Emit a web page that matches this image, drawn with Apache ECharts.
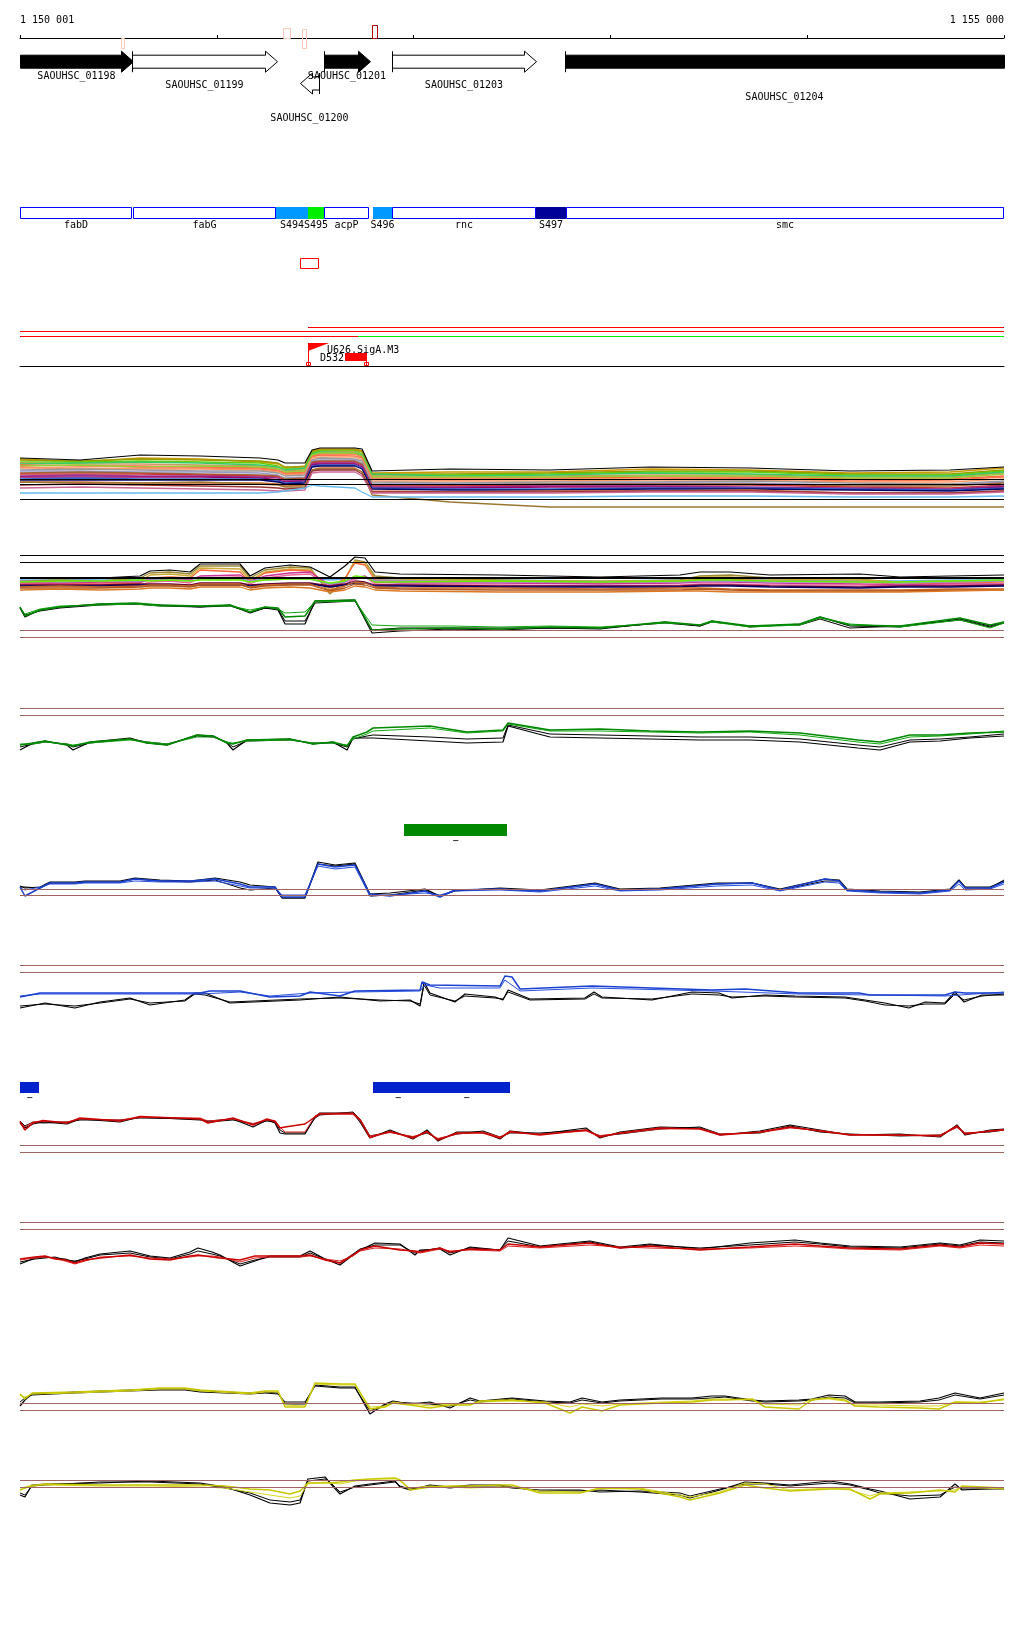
<!DOCTYPE html>
<html>
<head>
<meta charset="utf-8">
<title>SAOUHSC_01198 – SAOUHSC_01204 region</title>
<script src="https://cdn.jsdelivr.net/npm/echarts@6.0.0/dist/echarts.min.js"></script>
<style>
html,body{margin:0;padding:0;background:#ffffff;}
#chart{width:1024px;height:1640px;}
</style>
</head>
<body>
<div id="chart"></div>
<script>
// ======================= DATA =======================
const WIN_START = 1150000;      // window shown as 1 150 001 .. 1 155 000
const WIN_LEN = 5000;           // bp in window
const RULER_STEP = 1000;

// genes (bp relative to window start)
const GENE_NAMES  = ['SAOUHSC_01198','SAOUHSC_01199','SAOUHSC_01200','SAOUHSC_01201','SAOUHSC_01203','SAOUHSC_01204'];
const GENE_START  = [-300, 569, 1423, 1545, 1890, 2769];
const GENE_END    = [574, 1306, 1520, 1778, 2622, 5600];
const GENE_STRAND = [1, 1, -1, 1, 1, 1];
const GENE_FILLED = [1, 0, 0, 1, 0, 1];

// small marks on the ruler
const MARK_START = [513, 1336, 1433, 1789];
const MARK_END   = [528, 1372, 1453, 1814];

// operon / annotation boxes
const OPERON_NAMES = ['fabD','fabG','S494','S495','acpP','S496','rnc','S497','smc'];
const OPERON_START = [0, 574, 1301, 1463, 1545, 1794, 1890, 2622, 2774];
const OPERON_END   = [567, 1301, 1463, 1545, 1773, 1890, 2622, 2774, 5000];
const OPERON_TYPE  = ['cds','cds','srna','srna','cds','srna','cds','srna','cds'];

// site, transcripts, promoter, terminator
const SITE_START = [1423];
const SITE_END   = [1519];
const TX_START = [1463, 0, 0, 1717];
const TX_END   = [5000, 5000, 1717, 5000];
const TX_LANE  = [0, 1, 2, 2];
const PROM_NAMES = ['U626.SigA.M3'];
const PROM_POS   = [1463];
const TERM_NAMES = ['D532'];
const TERM_START = [1651];
const TERM_END   = [1758];

// segment features
const GSEG_START = [1951];
const GSEG_END   = [2475];
const GSEG_LABEL = ['−'];
const BSEG_START = [0, 1794, 2048];
const BSEG_END   = [97, 2048, 2490];
const BSEG_LABEL = ['−', '−', '−'];

// ---- track A (dense multi-condition profile) ----
const A_POS    = [0,305,610,915,1220,1311,1347,1448,1484,1524,1702,1738,1789,2185,2693,3201,3709,4217,4726,5000];
const A_BLACK  = [10.4,10,11,10.8,10.4,10,9.4,9.4,12,12.4,12.4,12.2,7.8,8.2,8,8.6,8.4,7.8,8,8.6];
const A_GOLD   = [10.2,9.6,10.4,10.2,9.6,9.2,8.4,8.8,11.8,12.2,12.2,11.8,7.4,7.6,7.6,8.2,8,7.4,7.6,8.4];
const A_OLIVE  = [10,9.8,10.2,10,9.8,9.4,8.6,8.6,11.6,12,12,11.6,7.2,7.2,7.4,7.8,7.8,7.2,7.2,8];
const A_GREEN  = [9.6,9.6,9.8,9.6,9.4,8.8,8.2,8.2,11.4,11.8,11.8,11.2,7,7,7.2,7.6,7.6,7,7,7.8];
const A_TAN    = [9.4,9.2,9.2,9,8.8,8.4,7.8,8,11,11.6,11.6,11,6.8,6.8,6.8,7,7,6.6,6.6,7.4];
const A_MINT   = [9.2,9.4,9.6,9.4,9,8.6,8,8.4,11.2,11.6,11.4,11,7.2,6.8,7,7.4,7.2,6.8,6.8,7.6];
const A_ORANGE = [9,8.8,8.8,8.6,8.4,8,7.4,7.6,10.8,11.2,11.2,10.6,6.4,6.4,6.4,6.6,6.6,6.2,6.2,6.8];
const A_LIME   = [8.8,9,8.6,8.8,8.6,8.2,7.6,7.8,11,11.4,11.4,10.8,6.6,6.6,6.6,6.8,6.8,6.4,6.4,7.2];
const A_CORAL  = [8.6,8.2,8.4,8.4,8.2,7.8,7.2,7.4,10.6,11,10.8,10.4,6.2,6,6.2,6.2,6.4,5.8,6,6.6];
const A_SALMON = [8.4,8.4,8.2,8.2,8,7.6,7,7.2,10.4,10.6,10.6,10,5.8,5.8,5.8,6,6,5.6,5.6,6.2];
const A_GREY   = [8,8.2,8,7.8,7.8,7.4,6.8,7,10,10.4,10.2,9.8,5.6,5.4,5.6,5.6,5.8,5.4,5.2,5.8];
const A_LILAC  = [7.8,7.8,7.6,7.6,7.4,7,6.4,6.6,9.8,10,10,9.4,5.2,5.2,5.2,5.4,5.4,5,5,5.6];
const A_BROWN  = [7.4,7.6,7.4,7.2,7,6.8,6.2,6.4,9.6,9.8,9.8,9.2,5,5,5.2,5.2,5.2,4.8,4.8,5.4];
const A_RED    = [7.2,7.2,7.2,7,6.8,6.6,6,6.2,9.4,9.6,9.6,9,4.8,4.8,5,5,5,4.6,4.4,5];
const A_PLUM   = [6.8,7,6.8,6.8,6.6,6.4,5.8,6,9.2,9.4,9.4,8.8,4.6,4.6,4.8,4.8,4.6,4.4,4.2,4.8];
const A_PURPLE = [6.6,6.6,6.6,6.6,6.4,6,5.6,5.8,9,9.2,9.2,8.6,4.4,4.4,4.6,4.6,4.4,4.2,4,4.6];
const A_BLUE   = [6.2,6.4,6.2,6.2,6.2,5.8,5.4,5.6,8.8,9,9,8.4,4.4,4.2,4.2,4.4,4.4,4.2,4,4.4];
const A_NAVY   = [6,6,6,6,6,5.6,5.2,5.4,8.6,8.8,8.8,8.2,4.2,4,4,4.2,4.2,4,3.8,4.2];
const A_RUST   = [5.6,5.6,5.4,5.4,5.4,5.2,4.8,5,8,8.4,8.4,7.6,3.8,3.6,3.8,3.8,4,3.4,3.4,3.8];
const A_OCHRE  = [5.6,5.4,5.4,5.6,5.2,5,4.6,4.6,8,8.2,8.2,7.6,3,1.6,0.6,0.6,0.6,0.6,0.6,0.6];
const A_MAROON = [5,5.2,5,4.8,4.6,4.4,4.2,4.4,7.8,8,8,7.2,3.6,3.6,3.6,3.8,3.8,3.4,3.4,3.8];
const A_PINK   = [4.4,4.6,4.4,4.2,4,3.8,3.8,4,7.4,7.6,7.6,6.8,3.4,3.4,3.4,3.6,3.6,3.2,3.2,3.6];
const A_SKY    = [3.4,3.4,3.4,3.4,3.4,3.6,3.8,4.4,5,4.8,4.4,3.6,2.6,2.6,2.6,2.8,2.8,2.6,2.6,2.8];
const A_REFS   = [6.2, 5.2, 2.2];

// ---- track B ----
const B_POS     = [0,203,407,610,661,762,864,915,1118,1169,1245,1372,1474,1575,1651,1702,1753,1804,1931,2439,2947,3354,3455,3608,3811,4268,4472,4726,5000];
const B_BLACK   = [4.4,4.4,4.4,4.8,5.8,6,5.6,7.2,7.2,4.8,6.4,7,6.6,4.6,6.8,8.6,8.4,5.6,5.2,5,4.6,5,5.6,5.6,5,5.2,4.6,4.8,5];
const B_OLIVE   = [3.8,4,3.8,4.4,5.4,5.6,5.2,6.8,6.8,4.4,6,6.6,6.4,1.2,4,8,7.6,4.8,4.4,4,3.6,4,4.8,5,4.4,4.2,3.4,3.6,3.8];
const B_GOLD    = [3.6,3.6,3.4,3.8,5,5.2,4.8,6.4,6.2,4,5.6,6.2,6,2,4.2,7.8,7.4,4.4,4.2,3.8,3.8,3.8,4.6,4.6,4.2,4,3.6,3.8,3.8];
const B_ORANGE  = [3.2,3.4,3.2,3.4,4.4,4.6,4.4,6,5.6,3.6,5.4,6,5.8,2.4,4.4,7.4,7,4,3.8,3.6,3.4,3.6,4.2,4.2,3.8,3.6,3.2,3.4,3.6];
const B_MAGENTA = [3.4,3.4,3.6,3.6,4,4,4,4.8,5,3.8,4.8,5.4,5.6,3,3.6,4.4,4.8,3.6,3.4,3.4,3.2,3.4,3.6,3.6,3.4,3.2,3,3.2,3.2];
const B_PINK    = [3.2,3,3.2,3,3.6,3.8,3.4,4.4,4.6,3.2,4.4,5,5.2,2.6,3.2,4.2,4.6,3.2,3,3,2.8,3,3.2,3.2,3,3,2.8,3,3];
const B_SKY     = [4,4,4.2,4.2,4.2,4.2,4.2,4.4,4.4,4.2,4.2,4.4,4.4,4,4.2,4.4,4.4,4,4,4,3.8,4,4,4,4,3.8,3.8,4,4];
const B_LILAC   = [3.8,3.6,3.8,3.8,4,4,3.8,4.2,4.2,3.8,4,4.2,4.2,3.2,3.6,4.6,4.4,3.8,3.8,3.6,3.6,3.6,3.8,3.8,3.6,3.6,3.4,3.6,3.8];
const B_GREEN   = [3.6,3.8,3.8,4,3.8,4,3.8,4,4,3.6,4,4.2,4.2,3.4,3.8,4.8,4.6,3.6,3.6,3.8,3.6,3.8,4,4,3.8,3.6,3.6,3.8,4];
const B_DARK    = [3,3,3,3.2,3.2,3.2,3,3.4,3.4,3,3.2,3.4,3.4,2.8,3.2,3.8,3.6,3,3,2.8,2.8,2.8,3,3,2.8,2.6,2.8,2.8,3];
const B_NAVY    = [2.8,2.8,2.8,3,3,3,2.8,3,3,2.8,3,3.2,3.2,2.6,3,3.4,3.4,2.8,2.8,2.6,2.6,2.6,2.8,2.8,2.6,2.4,2.6,2.6,2.8];
const B_RUST    = [2.6,2.8,2.6,2.8,3,3,2.8,3.2,3.2,2.6,3,3.2,3.2,2,2.8,3.6,3.4,2.6,2.4,2.4,2.2,2.4,2.4,2.2,2,2,2,2.2,2.2];
const B_BROWN   = [2.4,2.4,2.4,2.6,2.8,2.8,2.6,3,3,2.4,2.8,3,3,1.8,2.4,3.2,3,2.4,2.2,2,2,2,2.2,2,1.8,1.8,1.8,2,2];
const B_AMBER   = [2,2.2,2,2.2,2.4,2.4,2.2,2.6,2.6,2,2.4,2.6,2.4,1.6,2,2.8,2.6,2,1.8,1.6,1.6,1.8,1.8,1.6,1.6,1.6,1.6,1.8,2];
const B_REFS    = [9, 7.6];
const B_BASE    = [4.4];

// ---- track C (green) ----
const C_POS    = [0,25,102,203,407,584,711,915,1067,1169,1245,1311,1347,1448,1499,1702,1789,1931,2185,2439,2693,2947,3277,3455,3516,3709,3963,4065,4217,4472,4776,4929,5000];
const C_GREEN1 = [7.6,5.8,7,7.6,8.2,8.4,8,7.8,8,6.6,7.6,7.4,5.6,5.8,8.8,9,3,3.2,3.4,3.2,3.6,3.4,4.6,4,4.8,3.8,4.2,5.6,4,3.8,5.4,4,4.6];
const C_GREEN2 = [7.4,6.2,7.2,7.8,8,8.2,7.8,7.8,7.8,7,7.6,7.2,6.4,6.6,8.6,8.8,4,3.8,3.8,3.6,3.8,3.6,4.4,4,4.6,3.6,4,5.4,4.2,3.6,5,3.4,4.4];
const C_BLACK1 = [7.4,5.6,7,7.6,8.2,8.2,8,7.6,8,6.4,7.4,7,4.2,4.2,8.8,9,2.4,2.8,3.2,3,3.4,3.2,4.6,3.8,4.8,3.6,4.2,5.6,3.8,3.6,5.2,3.8,4.6];
const C_BLACK2 = [7.6,6,6.8,7.4,8,8.2,7.8,7.6,7.8,6.6,7.4,7.2,4.8,4.8,8.4,8.8,3,3.4,3.4,3.4,3.4,3.4,4.4,3.8,4.6,3.8,4,5.2,3.4,3.8,5,3.6,4.4];
const C_REFS   = [3, 1.6];

// ---- track D (green) ----
const D_POS    = [0,66,127,239,269,356,559,645,747,899,981,1052,1082,1153,1372,1489,1590,1662,1692,1763,1794,2083,2271,2454,2480,2693,2947,3201,3455,3709,3963,4258,4370,4522,4675,4827,5000];
const D_GREEN1 = [3,3.4,3.8,3,2.8,3.6,4.2,3.4,3,5,4.8,3.4,3.2,4,4.2,3.2,3.6,2.8,4.6,5.6,6.4,6.8,5.6,6,7.4,6,6.2,5.8,5.6,5.8,5.4,4,3.6,5,5,5.4,5.6];
const D_GREEN2 = [3.2,3.2,3.6,3.2,3,3.4,4,3.6,3.2,4.6,4.6,3.6,3.4,3.8,4,3.4,3.4,3,4.2,5.2,5.8,6.4,5.4,5.8,7.2,5.8,5.8,5.6,5.4,5.6,5,3.6,3.2,4.6,4.8,5.2,5.8];
const D_BLACK1 = [2,3.4,3.8,3,2,3.6,4.4,3.4,3,5,4.8,3.4,2,4,4.2,3.2,3.6,2,4.4,4.4,4.4,3.8,3.4,3.6,6.8,4.6,4.4,4.2,4,4,3.6,2.4,2,3.6,3.8,4.4,4.8];
const D_BLACK2 = [2.6,3.2,3.6,3.2,2.6,3.4,4.2,3.6,3.2,4.8,4.6,3.6,2.6,3.8,4,3.4,3.4,2.6,4.2,4.8,5,4.6,4.2,4.4,7,5.2,5,4.8,4.6,4.6,4.2,3,2.6,4,4.2,4.6,5.2];
const D_REFS   = [10.4, 9];

// ---- track E (blue) ----
const E_POS    = [0,25,102,152,279,330,508,584,711,864,991,1118,1169,1296,1331,1448,1514,1601,1702,1778,1880,2058,2134,2210,2439,2642,2922,3049,3252,3542,3720,3862,4090,4162,4202,4370,4573,4726,4771,4802,4929,5000];
const E_BLUE1  = [3.6,1.8,3.4,4.4,4.4,4.6,4.6,5.2,4.8,4.8,5.2,4.2,3.6,3.6,1.6,1.6,8.2,7.6,8,2.2,1.8,2.8,1.6,3,3.2,2.8,4.2,3,3.2,4.2,4.4,3,5.2,4.8,3,2.6,2.4,3,4.8,3.4,3.4,4.6];
const E_BLUE2  = [3.4,3,3.6,4.2,4.2,4.4,4.4,4.8,4.6,4.6,4.8,3.8,3.4,3.4,2,2,7.8,7.2,7.6,1.8,2,2.4,2,2.8,3,2.6,3.8,2.8,3,3.8,4,2.8,4.6,4.4,2.8,2.4,2.2,2.8,4.2,3,3.2,4.2];
const E_BLACK1 = [3.8,3.4,3.6,4.6,4.6,4.8,4.8,5.4,5,4.8,5.4,4.6,4,3.6,1.4,1.4,8.6,8,8.4,2.2,2.4,3.2,1.8,2.8,3.4,3,4.4,3.2,3.4,4.4,4.4,3.2,5.2,5,3.2,2.8,2.6,3.2,5,3.6,3.6,4.8];
const E_BLACK2 = [3.6,3.6,3.4,4.4,4.4,4.6,4.6,5.2,4.8,4.6,5,3.4,3,3.4,1.4,1.4,8.2,7.8,8.2,1.8,2,3,1.8,3,3.2,2.8,4.2,3,3.2,4.2,4.4,3,4.8,4.8,3,2.6,2.4,3,5,3.4,3.4,5];
const E_REFS   = [3.2, 2];

// ---- track F (blue) : [bp, value] ----
const F_BLUE1 = [[0,3.6],[102,4.4],[915,4.4],[965,4.8],[1118,4.8],[1270,3.6],[1423,3.8],[1474,4.6],[1626,3.8],[1702,4.8],[2033,5],[2043,6.6],[2083,6],[2439,5.8],[2464,7.8],[2500,7.6],[2541,5.2],[2906,5.8],[3516,5],[3684,5.2],[3958,4.4],[4263,4.4],[4319,4],[4700,4],[4751,4.6],[4802,4.4],[5000,4.4]];
const F_BLUE2 = [[0,3.8],[102,4.2],[915,4.2],[1118,4.6],[1270,3.8],[1474,4.4],[1702,4.6],[2033,4.8],[2058,6],[2134,5.4],[2439,5.4],[2464,7],[2541,4.8],[2906,5.4],[3516,4.8],[3958,4.2],[4700,3.8],[5000,4.6]];
const F_BLACK1 = [[0,1.4],[127,2.4],[279,1.4],[407,2.6],[559,3.4],[661,2],[838,3],[889,4.4],[940,4.4],[1067,2.4],[1423,3],[1626,3.6],[1829,2.8],[1982,3],[2033,1.8],[2053,6.6],[2083,4.4],[2210,2.6],[2261,4.2],[2414,3.6],[2454,3],[2480,5],[2591,3.2],[2871,3.4],[2917,4.6],[2957,3.6],[3211,3],[3415,4.6],[3552,4.4],[3618,3.4],[3786,4],[3938,3.8],[4192,3.6],[4294,3],[4395,2.4],[4517,1.4],[4599,2.6],[4700,2.4],[4751,4.6],[4797,2.6],[4888,4],[5000,4]];
const F_BLACK2 = [[0,1.8],[127,2.2],[279,1.8],[407,2.4],[559,3.2],[661,2.4],[838,2.8],[889,4.2],[940,4],[1067,2.6],[1423,3.2],[1626,3.4],[1829,3],[1982,2.8],[2033,2.2],[2053,6],[2083,4],[2210,2.8],[2261,3.8],[2414,3.4],[2454,3.2],[2480,4.6],[2591,3],[2871,3.2],[2917,4.2],[2957,3.4],[3211,3.2],[3415,4.2],[3552,4],[3618,3.6],[3786,3.8],[3938,3.6],[4192,3.4],[4294,2.8],[4395,2],[4517,1.8],[4599,2.2],[4700,2.2],[4751,4.2],[4797,3],[4888,3.8],[5000,4.2]];
const F_REFS = [10, 8.6];

// ---- track G (red) ----
const G_POS    = [0,25,66,117,239,305,508,610,915,955,1082,1184,1255,1296,1321,1347,1448,1499,1524,1692,1728,1778,1880,1997,2068,2124,2221,2353,2439,2490,2642,2876,2947,3049,3252,3455,3557,3760,3913,4065,4217,4472,4675,4761,4802,4929,5000];
const G_RED1   = [6.7,5,6.4,6.9,6.4,7.4,6.8,7.7,7.2,6.4,7.4,6,7.2,6.7,5.4,5.6,6.2,7.6,8.2,8.2,7,3.5,4.7,3.4,4.7,3,4.4,4.4,3.4,4.7,4,5,3.6,4.4,5.4,5.2,4,4.6,5.6,4.8,4,4,3.8,5.8,4.2,4.8,5];
const G_RED2   = [6.5,5.6,6.6,6.7,6.6,7.2,7,7.5,7.4,6.8,7.2,6.3,7,6.9,5.6,4.6,4.6,7.8,8.3,8.4,7.2,3.8,4.5,3.7,4.5,3.3,4.2,4.6,3.6,4.5,4.2,4.8,3.9,4.3,5.2,5.3,4.2,4.5,5.4,4.9,4.1,3.9,4,5.5,4.4,4.7,5.1];
const G_BLACK1 = [6.4,5.4,6.2,6.6,6.2,7.2,6.6,7.6,7,6.8,7.2,5.6,7,6.4,4.4,4.2,4.2,7.6,8.4,8.4,6.6,3.4,5,3.2,5,2.8,4.6,4.6,3.2,4.8,4.2,5.4,3.4,4.6,5.6,5.4,4,4.8,6,5,4,4.2,3.6,6,4,5,5.2];
const G_BLACK2 = [6.8,5.8,6.6,6.4,6.6,7,7,7.4,7.2,6.6,7,6.2,6.8,6.6,5,4.4,4.4,7.4,8,8.6,7.2,3.8,4.6,3.6,4.4,3.2,4.2,4.8,3.6,4.4,4.4,5,3.8,4.2,5.2,5.6,4.2,4.4,5.8,4.6,4.2,3.8,4,5.6,4.4,4.6,5];
const G_REFS   = [2, 0.6];

// ---- track H (red) ----
const H_POS    = [0,76,127,178,229,279,330,407,559,661,762,864,904,976,1016,1118,1194,1270,1423,1474,1550,1626,1692,1728,1804,1931,2007,2033,2134,2185,2287,2439,2480,2642,2896,3049,3201,3455,3709,3938,4065,4217,4472,4675,4776,4878,5000];
const H_RED1   = [2.2,2.6,2.8,2.2,2,1.4,2,2.4,3,2.2,2,2.8,3,2.6,2.4,2,2.8,2.8,2.8,3,2,1.4,3,4,4.8,4,3.8,3.6,4.4,3.6,4.2,4,5.2,4.6,5.4,4.4,4.8,4,4.6,5.2,4.8,4.4,4.2,5,4.6,5.4,5.2];
const H_RED2   = [2,2.4,2.6,2.4,1.8,1.2,1.8,2.6,2.8,2.4,2.2,2.6,2.8,2.8,2.6,1.6,2.4,2.6,2.6,2.8,2.2,1.8,2.8,3.8,4.4,4.2,3.6,3.4,4.2,3.8,4,3.8,4.8,4.4,5,4.6,4.4,4.2,4.4,4.8,4.6,4.2,4,4.8,4.4,5,4.8];
const H_BLACK1 = [1.2,2.4,2.6,2.4,2.2,1.6,2.4,3.2,3.8,2.8,2.4,3.6,4.4,3.6,3,0.8,1.8,2.8,2.8,3.8,2.2,1,3,4,5.4,5.2,3,4,4.2,3,4.6,4,6.4,4.8,5.8,4.6,5.2,4.2,5.4,6,5.4,4.8,4.6,5.4,5,6,5.8];
const H_BLACK2 = [1.6,2.2,2.4,2.6,2,1.8,2.2,3,3.4,2.6,2.2,3.2,3.8,3.2,2.8,1.2,2,2.6,2.6,3.4,2.2,1.4,3.2,4.2,5,5,3.4,3.8,4.4,3.4,4.4,4,5.8,4.6,5.6,4.4,5,4.4,5,5.6,5.2,4.6,4.4,5.2,4.8,5.6,5.4];
const H_REFS   = [9.6, 8.2];

// ---- track I (yellow) ----
const I_POS    = [0,25,61,279,559,711,838,915,1169,1245,1311,1347,1448,1499,1626,1702,1778,1855,1895,1982,2083,2185,2287,2337,2500,2668,2795,2856,2957,3049,3262,3415,3516,3582,3720,3786,3958,4024,4111,4192,4243,4365,4573,4670,4751,4878,5000];
const I_YEL1   = [5.2,4.2,5.4,5.6,6,6.4,6.4,6,5.4,5.8,5.8,2.6,2.6,7.4,7.2,7.2,2.2,2.6,3.4,3,2.4,3,3,3.8,4,3.4,1.4,2.6,1.8,3,3.4,3.6,4,4,4.2,2.6,2.2,4,4.4,4,2.8,2.6,2.4,2.2,3.6,3.4,4.2];
const I_YEL2   = [5,4.6,5.2,5.4,5.8,6.2,6.2,5.8,5.2,5.6,5.6,3,2.8,7.2,7,7,2.6,2.8,3.6,3.2,2.8,3.2,3.2,3.6,3.8,3.6,2.6,3.2,2.8,3.2,3.6,3.8,4.2,4.2,4,3.2,3,4.2,4.2,3.8,3,3,2.8,2.8,3.6,3.6,4];
const I_BLACK1 = [2.8,4,5.2,5.6,6,6.2,6.2,5.8,5.4,5.6,5.4,3.2,3.2,7,6.6,6.6,1.2,3.2,3.8,3.2,3.6,2.4,4.4,3.8,4.4,3.8,3.6,4.4,3.6,4,4.4,4.4,4.8,4.8,4,3.8,4,4.2,5,4.8,3.6,3.6,3.8,4.4,5.4,4.4,5.4];
const I_BLACK2 = [3.6,4.4,5,5.4,5.8,6,6,5.6,5.2,5.4,5.2,3.6,3.6,6.8,6.4,6.4,1.8,3,3.6,3.4,3.2,2.8,4,3.6,4.2,3.6,3.4,4,3.4,3.8,4.2,4.2,4.4,4.6,3.8,3.6,3.8,4,4.6,4.4,3.4,3.4,3.6,4,5,4.2,5];
const I_REFS   = [3.4, 2];

// ---- track J (yellow) ----
const J_POS    = [0,25,61,127,407,661,915,1042,1169,1270,1372,1423,1463,1550,1575,1626,1702,1778,1905,1931,1982,2083,2185,2287,2439,2500,2642,2846,2947,3150,3354,3404,3557,3684,3786,3913,4116,4217,4319,4370,4522,4675,4751,4787,5000];
const J_YEL1   = [5,5.4,5.8,6.2,6,6,6,5.8,5.2,5,4.2,4.8,6.4,6.4,6.4,6.6,7,7.2,7.4,7,5,5.6,5.8,5.8,6,6,4.4,4.4,5.4,5.2,3.6,3,4.4,6,5.4,4.8,5.2,5.2,3.2,4.2,4.4,5,4.6,5.8,5.4];
const J_YEL2   = [5.4,5.6,6,6,5.8,5.8,5.6,5.4,4.6,4,3.4,3.8,6.2,6.6,6.4,6.2,6.8,7,7,6.8,5.4,5.8,5.6,5.4,5.6,5.6,4.8,4.6,5.2,5.4,4,3.6,4.6,6.4,6.2,5,5.4,5,3.8,4.4,4.6,4.8,5,5.6,5.2];
const J_BLACK1 = [4,3.6,6,6.2,6.4,6.8,6.4,5.6,4,2.4,2,2.4,7.2,7.6,6.4,4.2,5.8,6.2,6.8,5.6,5,6,5.6,6,6,5.6,4.8,4.8,5,4.6,4,3.4,5,6.6,6.4,6,6.8,6.2,5.2,4.8,3.2,3.6,6.2,5,5.4];
const J_BLACK2 = [4.4,4,5.8,6,6.6,6.6,6.2,5.4,4.4,3,2.6,3,6.8,7.2,6.6,4.6,5.6,6,6.6,5.8,5.2,5.8,5.4,5.8,5.8,5.4,5,5,4.6,4.8,4.4,3.8,5.2,6.2,6.2,5.8,6.4,6,5,4.4,3.8,4,5.6,5.2,5.2];
const J_REFS   = [7, 5.6];

// ======================= STYLE =======================
const FONT = '"DejaVu Sans Mono", "Liberation Mono", monospace';
const BROWN = '#a06464';
const GEO = { geneFwdY: 23.7, geneRevY: 45.5, bodyHalf: 6.5, headHalf: 10.5, headLen: 12 };
const GENE_LABEL_DY = [38, 47, 80, 38, 47, 59];
const MARK_Y = [[0, 10], [-10, 0], [-9, 10], [-13, 0]];
const MARK_COLOR = ['#ffc8b4', '#ffc8b4', '#ffc8b4', '#b00000'];
const SRNA_COLOR = { S494: '#0099ff', S495: '#00ee00', S496: '#0099ff', S497: '#000099' };
const TX_LANE_DY = [77, 81, 86];
const TX_COLOR = ['#ff0000', '#ff0000', '#ff0000', '#00ee00'];

// grids: [top, height, yMax]
const GRIDS = [
  [38, 90, 10],     // 0 ruler + genes
  [207, 11, 1],     // 1 operons
  [250, 116, 1],    // 2 regulatory
  [430, 80, 16],    // 3 A
  [550, 50, 10],    // 4 B
  [595, 50, 10],    // 5 C
  [700, 60, 12],    // 6 D
  [824, 12, 1],     // 7 green segments
  [850, 55, 11],    // 8 E
  [960, 55, 11],    // 9 F
  [1082, 11, 1],    // 10 blue segments
  [1105, 50, 10],   // 11 G
  [1215, 55, 11],   // 12 H
  [1370, 50, 10],   // 13 I
  [1470, 45, 9]     // 14 J
];

// ======================= BUILD =======================
function fmtBp(v) { return String(v).replace(/\B(?=(\d{3})+(?!\d))/g, ' '); }
function pairs(pos, vals) { return pos.map((p, i) => [p, vals[i]]); }
function xPix(api, v) { return Math.round(api.coord([v, 0])[0]); }
function txt(text, x, y, align, vAlign) {
  return { type: 'text', silent: true, style: { text: text, x: x, y: y, font: '10px ' + FONT, fill: '#000',
    align: align, verticalAlign: vAlign, textAlign: align, textVerticalAlign: vAlign } };
}

const grid = GRIDS.map(g => ({ left: 20, width: 984, top: g[0], height: g[1], containLabel: false, outerBoundsMode: 'none' }));
const xAxis = GRIDS.map((g, k) => ({
  gridIndex: k, type: 'value', min: 0, max: WIN_LEN, interval: RULER_STEP, show: false,
  axisLine: { show: false }, axisTick: { show: false }, axisLabel: { show: false }, splitLine: { show: false }
}));
xAxis[0] = {
  gridIndex: 0, type: 'value', min: 0, max: WIN_LEN, interval: RULER_STEP, position: 'top', show: true,
  axisLine: { show: true, onZero: false, lineStyle: { color: '#000', width: 1 } },
  axisTick: { show: true, length: 3, lineStyle: { color: '#000', width: 1 } },
  axisLabel: { show: true, margin: 13, fontSize: 10, fontFamily: FONT, color: '#000',
    showMinLabel: true, showMaxLabel: true, alignMinLabel: 'left', alignMaxLabel: 'right',
    formatter: v => v === 0 ? fmtBp(WIN_START + 1) : (v === WIN_LEN ? fmtBp(WIN_START + WIN_LEN) : '') },
  splitLine: { show: false }
};
xAxis[2] = {
  gridIndex: 2, type: 'value', min: 0, max: WIN_LEN, position: 'bottom', show: true,
  axisLine: { show: true, onZero: false, lineStyle: { color: '#000', width: 1 } },
  axisTick: { show: false }, axisLabel: { show: false }, splitLine: { show: false }
};
const yAxis = GRIDS.map((g, k) => ({ gridIndex: k, type: 'value', min: 0, max: g[2], show: false, splitLine: { show: false } }));

const series = [];
function custom(k, data, renderItem) {
  series.push({ type: 'custom', coordinateSystem: 'cartesian2d', xAxisIndex: k, yAxisIndex: k, silent: true,
    animation: false, clip: false, encode: { x: [0, 1], y: 2 }, data: data, renderItem: renderItem, z: 3 });
}
function line(k, data, color, width, z, refs, refColor, refWidth) {
  const s = { type: 'line', xAxisIndex: k, yAxisIndex: k, data: data, showSymbol: false, symbol: 'none',
    lineStyle: { color: color, width: width }, itemStyle: { color: color }, silent: true, animation: false,
    clip: false, z: z || 2 };
  if (refs) s.markLine = { silent: true, symbol: ['none', 'none'], animation: false, label: { show: false },
    lineStyle: { color: refColor, width: refWidth || 1, type: 'solid' }, data: refs.map(v => ({ yAxis: v })) };
  series.push(s);
}

// ruler marks
custom(0, MARK_START.map((s, i) => [s, MARK_END[i], i]), (p, api) => {
  const cs = p.coordSys, i = api.value(2);
  const x0 = xPix(api, MARK_START[i]), x1 = xPix(api, MARK_END[i]);
  const ys = MARK_Y[i];
  return { type: 'rect', shape: { x: x0 + 0.5, y: Math.round(cs.y) + ys[0] + 0.5, width: Math.max(x1 - x0, 3), height: ys[1] - ys[0] },
    style: { fill: 'none', stroke: MARK_COLOR[i], lineWidth: 1 } };
});

// genes
custom(0, GENE_NAMES.map((n, i) => [Math.max(GENE_START[i], 0), Math.min(GENE_END[i], WIN_LEN), i]), (p, api) => {
  const cs = p.coordSys, i = api.value(2);
  const s = GENE_START[i], e = GENE_END[i];
  const clipL = s < 0, clipR = e > WIN_LEN;
  const x0 = xPix(api, Math.max(s, 0)), x1 = xPix(api, Math.min(e, WIN_LEN));
  const fwd = GENE_STRAND[i] > 0;
  const cy = cs.y + (fwd ? GEO.geneFwdY : GEO.geneRevY);
  const bh = GEO.bodyHalf, hh = GEO.headHalf, hl = GEO.headLen;
  let pts, bar = null;
  if (fwd) {
    pts = clipR ? [[x0, cy - bh], [x1, cy - bh], [x1, cy + bh], [x0, cy + bh]]
      : [[x0, cy - bh], [x1 - hl, cy - bh], [x1 - hl, cy - hh], [x1, cy], [x1 - hl, cy + hh], [x1 - hl, cy + bh], [x0, cy + bh]];
    if (!clipL) bar = x0;
  } else {
    pts = clipL ? [[x1, cy - bh], [x0, cy - bh], [x0, cy + bh], [x1, cy + bh]]
      : [[x1, cy - bh], [x0 + hl, cy - bh], [x0 + hl, cy - hh], [x0, cy], [x0 + hl, cy + hh], [x0 + hl, cy + bh], [x1, cy + bh]];
    if (!clipR) bar = x1;
  }
  const filled = GENE_FILLED[i] === 1;
  const ch = [{ type: 'polygon', shape: { points: pts.map(q => [q[0] + 0.5, q[1]]) },
    style: { fill: filled ? '#000' : '#fff', stroke: '#000', lineWidth: 1 } }];
  if (bar !== null) ch.push({ type: 'line', shape: { x1: bar + 0.5, y1: cy - hh, x2: bar + 0.5, y2: cy + hh }, style: { stroke: '#000', lineWidth: 1 } });
  ch.push(txt(GENE_NAMES[i], (x0 + x1) / 2, cs.y + GENE_LABEL_DY[i], 'center', 'middle'));
  return { type: 'group', children: ch };
});

// operons
custom(1, OPERON_NAMES.map((n, i) => [OPERON_START[i], OPERON_END[i], i]), (p, api) => {
  const cs = p.coordSys, i = api.value(2);
  const x0 = xPix(api, OPERON_START[i]), x1 = xPix(api, OPERON_END[i]);
  const ch = [];
  if (OPERON_TYPE[i] === 'srna') {
    ch.push({ type: 'rect', shape: { x: x0, y: cs.y, width: x1 - x0, height: cs.height + 1 }, style: { fill: SRNA_COLOR[OPERON_NAMES[i]] } });
  } else {
    ch.push({ type: 'rect', shape: { x: x0 + 0.5, y: cs.y + 0.5, width: x1 - x0 - 1, height: cs.height },
      style: { fill: '#fff', stroke: '#0000ff', lineWidth: 1 } });
  }
  ch.push(txt(OPERON_NAMES[i], (x0 + x1) / 2, cs.y + cs.height + 7, 'center', 'middle'));
  return { type: 'group', children: ch };
});

// site rectangle
custom(2, SITE_START.map((s, i) => [s, SITE_END[i], i]), (p, api) => {
  const cs = p.coordSys, i = api.value(2);
  const x0 = xPix(api, SITE_START[i]), x1 = xPix(api, SITE_END[i]);
  return { type: 'rect', shape: { x: x0 + 0.5, y: cs.y + 8.5, width: x1 - x0 - 1, height: 10 },
    style: { fill: 'none', stroke: '#ff0000', lineWidth: 1 } };
});
// transcripts
custom(2, TX_START.map((s, i) => [s, TX_END[i], i]), (p, api) => {
  const cs = p.coordSys, i = api.value(2);
  const x0 = xPix(api, TX_START[i]), x1 = xPix(api, TX_END[i]);
  const y = cs.y + TX_LANE_DY[TX_LANE[i]] + 0.5;
  return { type: 'line', shape: { x1: x0, y1: y, x2: x1, y2: y }, style: { stroke: TX_COLOR[i], lineWidth: 1 } };
});
// promoters
custom(2, PROM_POS.map((s, i) => [s, s, i]), (p, api) => {
  const cs = p.coordSys, i = api.value(2);
  const x = xPix(api, PROM_POS[i]);
  const top = cs.y + 93, bot = cs.y + 116;
  return { type: 'group', children: [
    { type: 'line', shape: { x1: x + 0.5, y1: top, x2: x + 0.5, y2: bot }, style: { stroke: '#ff0000', lineWidth: 1 } },
    { type: 'polygon', shape: { points: [[x, top], [x + 21, top], [x, top + 8]] }, style: { fill: '#ff0000' } },
    { type: 'rect', shape: { x: x - 1.5, y: bot - 3.5, width: 4, height: 3 }, style: { fill: 'none', stroke: '#ff0000', lineWidth: 1 } },
    txt(PROM_NAMES[i], x + 19, cs.y + 100, 'left', 'middle')
  ] };
});
// terminators
custom(2, TERM_START.map((s, i) => [s, TERM_END[i], i]), (p, api) => {
  const cs = p.coordSys, i = api.value(2);
  const x0 = xPix(api, TERM_START[i]), x1 = xPix(api, TERM_END[i]);
  const bot = cs.y + 116;
  return { type: 'group', children: [
    { type: 'rect', shape: { x: x0, y: cs.y + 103, width: x1 - x0, height: 8 }, style: { fill: '#ff0000' } },
    { type: 'line', shape: { x1: x1 + 0.5, y1: cs.y + 103, x2: x1 + 0.5, y2: bot }, style: { stroke: '#ff0000', lineWidth: 1 } },
    { type: 'rect', shape: { x: x1 - 1.5, y: bot - 3.5, width: 4, height: 3 }, style: { fill: 'none', stroke: '#ff0000', lineWidth: 1 } },
    txt(TERM_NAMES[i], x0 - 1, cs.y + 108, 'right', 'middle')
  ] };
});

// segment tracks
function segRender(starts, ends, labels, color) {
  return (p, api) => {
    const cs = p.coordSys, i = api.value(2);
    const x0 = xPix(api, starts[i]), x1 = xPix(api, ends[i]);
    return { type: 'group', children: [
      { type: 'rect', shape: { x: x0, y: cs.y, width: x1 - x0, height: cs.height }, style: { fill: color } },
      txt(labels[i], (x0 + x1) / 2, cs.y + cs.height + 5, 'center', 'middle')
    ] };
  };
}
custom(7, GSEG_START.map((s, i) => [s, GSEG_END[i], i]), segRender(GSEG_START, GSEG_END, GSEG_LABEL, '#008800'));
custom(10, BSEG_START.map((s, i) => [s, BSEG_END[i], i]), segRender(BSEG_START, BSEG_END, BSEG_LABEL, '#0022cc'));

// ---- track A ----
const A_SET = [
  [A_GOLD, '#cc9900'], [A_OLIVE, '#999900'], [A_GREEN, '#66cc00'], [A_TAN, '#cc9966'], [A_MINT, '#33cc66'],
  [A_ORANGE, '#ff6633'], [A_LIME, '#99cc33'], [A_CORAL, '#ff7755'], [A_SALMON, '#ff9966'], [A_GREY, '#999999'],
  [A_LILAC, '#9999cc'], [A_BROWN, '#996633'], [A_RED, '#cc3333'], [A_PLUM, '#993399'], [A_PURPLE, '#990066'],
  [A_BLUE, '#3366cc'], [A_NAVY, '#000066'], [A_RUST, '#cc6633'], [A_OCHRE, '#997733'], [A_MAROON, '#993333'],
  [A_PINK, '#cc6699'], [A_SKY, '#66bbee']
];
line(3, pairs(A_POS, A_BLACK), '#000', 1.2, 4, A_REFS, '#000', 1);
A_SET.forEach(s => line(3, pairs(A_POS, s[0]), s[1], 1.3, 3));

// ---- track B ----
line(4, pairs(B_POS, B_BLACK), '#000', 1.2, 4, B_REFS, '#000', 1);
line(4, pairs(B_POS, B_SKY), '#66aaee', 1.3, 2, B_BASE, '#000', 2);
[[B_OLIVE, '#998833'], [B_GOLD, '#ccaa33'], [B_ORANGE, '#ff6633'], [B_MAGENTA, '#cc3399'], [B_PINK, '#ee6699'],
 [B_LILAC, '#9999cc'], [B_GREEN, '#66ee00'], [B_DARK, '#660033'], [B_NAVY, '#000066'], [B_RUST, '#cc6622'],
 [B_BROWN, '#aa5522'], [B_AMBER, '#dd7722']].forEach(s => line(4, pairs(B_POS, s[0]), s[1], 1.3, 3));

// ---- two-colour tracks ----
function pairTrack(k, pos, b1, b2, c1, c2, col1, col2, refs) {
  line(k, pos ? pairs(pos, b1) : b1, '#000', 1.2, 2, refs, BROWN, 1);
  line(k, pos ? pairs(pos, b2) : b2, '#000', 1, 2);
  line(k, pos ? pairs(pos, c2) : c2, col2, 1, 3);
  line(k, pos ? pairs(pos, c1) : c1, col1, 1.5, 3);
}
pairTrack(5, C_POS, C_BLACK1, C_BLACK2, C_GREEN1, C_GREEN2, '#008800', '#11aa11', C_REFS);
pairTrack(6, D_POS, D_BLACK1, D_BLACK2, D_GREEN1, D_GREEN2, '#008800', '#11aa11', D_REFS);
pairTrack(8, E_POS, E_BLACK1, E_BLACK2, E_BLUE1, E_BLUE2, '#1a40d0', '#2a50e0', E_REFS);
pairTrack(9, null, F_BLACK1, F_BLACK2, F_BLUE1, F_BLUE2, '#1a40d0', '#2a50e0', F_REFS);
pairTrack(11, G_POS, G_BLACK1, G_BLACK2, G_RED1, G_RED2, '#cc0000', '#dd2222', G_REFS);
pairTrack(12, H_POS, H_BLACK1, H_BLACK2, H_RED1, H_RED2, '#cc0000', '#dd2222', H_REFS);
pairTrack(13, I_POS, I_BLACK1, I_BLACK2, I_YEL1, I_YEL2, '#c8c800', '#d8d820', I_REFS);
pairTrack(14, J_POS, J_BLACK1, J_BLACK2, J_YEL1, J_YEL2, '#c8c800', '#d8d820', J_REFS);

const chart = echarts.init(document.getElementById('chart'), null, { renderer: 'canvas', width: 1024, height: 1640 });
chart.setOption({
  backgroundColor: '#ffffff',
  animation: false,
  textStyle: { fontFamily: FONT },
  grid: grid,
  xAxis: xAxis,
  yAxis: yAxis,
  series: series
});
</script>
</body>
</html>
